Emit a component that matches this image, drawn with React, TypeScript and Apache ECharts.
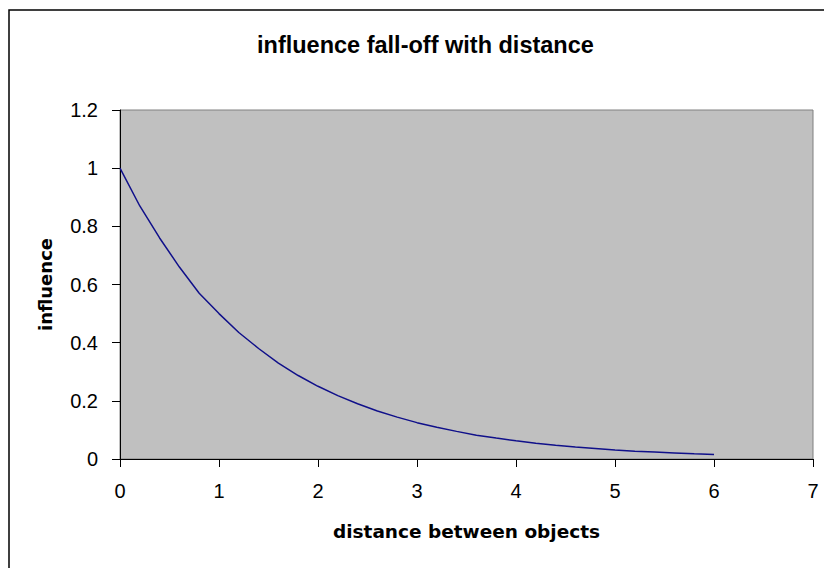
import React, { useEffect, useRef } from "react";
import * as echarts from "echarts";

const TITLE = "influence fall-off with distance";
const X_NAME = "distance between objects";
const Y_NAME = "influence";

const distance = [
  0, 0.2, 0.4, 0.6, 0.8, 1.0, 1.2, 1.4, 1.6, 1.8, 2.0, 2.2, 2.4, 2.6, 2.8, 3.0,
  3.2, 3.4, 3.6, 3.8, 4.0, 4.2, 4.4, 4.6, 4.8, 5.0, 5.2, 5.4, 5.6, 5.8, 6.0,
];
const influence = [
  1, 0.87, 0.76, 0.66, 0.57, 0.5, 0.435, 0.38, 0.33, 0.287, 0.25, 0.218, 0.19,
  0.165, 0.144, 0.125, 0.109, 0.095, 0.082, 0.072, 0.0625, 0.054, 0.047, 0.041,
  0.036, 0.031, 0.027, 0.024, 0.021, 0.018, 0.0156,
];

const FONT = "'Liberation Sans', Arial, sans-serif";
const WIDE = "'DejaVu Sans', Verdana, sans-serif";

export default function App() {
  const ref = useRef<HTMLDivElement>(null);
  useEffect(() => {
    if (!ref.current) return;
    const chart = echarts.init(ref.current, undefined, { renderer: "svg" });
    const data = distance.map((d, i) => [d, influence[i]]);
    chart.setOption({
      animation: false,
      backgroundColor: "#ffffff",
      title: {
        text: TITLE,
        left: 252,
        top: 28,
        textStyle: { fontFamily: FONT, fontSize: 23.5, fontWeight: "bold", color: "#000" },
      },
      graphic: [
        {
          type: "rect",
          shape: { x: 9, y: 10, width: 830, height: 600 },
          style: { fill: "none", stroke: "#000", lineWidth: 1.5 },
          silent: true,
        },
      ],
      grid: {
        left: 120,
        right: 11,
        top: 110,
        bottom: 109,
        show: true,
        backgroundColor: "#c0c0c0",
        borderColor: "#808080",
        borderWidth: 1,
      },
      xAxis: {
        type: "value",
        min: 0,
        max: 7,
        interval: 1,
        name: X_NAME,
        nameLocation: "middle",
        nameGap: 63,
        nameTextStyle: { fontFamily: WIDE, fontSize: 18.5, fontWeight: "bold", color: "#000" },
        axisLine: { show: true, lineStyle: { color: "#000", width: 1 } },
        axisTick: { show: true, length: 8, lineStyle: { color: "#000" } },
        axisLabel: { fontFamily: FONT, fontSize: 20, color: "#000", margin: 22 },
        splitLine: { show: false },
      },
      yAxis: {
        type: "value",
        min: 0,
        max: 1.2,
        interval: 0.2,
        name: Y_NAME,
        nameLocation: "middle",
        nameGap: 66,
        nameTextStyle: { fontFamily: WIDE, fontSize: 18, fontWeight: "bold", color: "#000" },
        axisLine: { show: true, lineStyle: { color: "#000", width: 1 } },
        axisTick: { show: true, length: 8, lineStyle: { color: "#000" } },
        axisLabel: {
          fontFamily: FONT,
          fontSize: 20,
          color: "#000",
          margin: 22,
          formatter: (v: number) => String(Math.round(v * 10) / 10),
        },
        splitLine: { show: false },
      },
      series: [
        {
          type: "line",
          data,
          showSymbol: false,
          symbol: "none",
          lineStyle: { color: "#10108a", width: 1.5 },
        },
      ],
    });
    return () => chart.dispose();
  }, []);
  return (
    <div
      ref={ref}
      style={{ position: "fixed", left: 0, top: 0, width: 824, height: 568 }}
    />
  );
}
